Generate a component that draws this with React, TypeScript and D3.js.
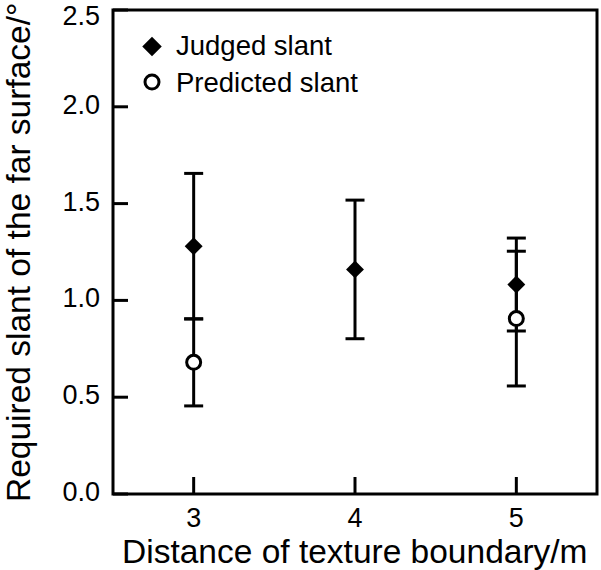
import React from "react";
import * as d3 from "d3";

const distances = [3, 4, 5];
const judgedSlant = [1.28, 1.16, 1.082];
const judgedErr = [0.376, 0.358, 0.24];
const predictedDistances = [3, 5];
const predictedSlant = [0.68, 0.906];
const predictedErr = [0.225, 0.348];
const yTicks = [0, 0.5, 1.0, 1.5, 2.0, 2.5];
const xTicks = [3, 4, 5];
const legendLabels = ["Judged slant", "Predicted slant"];
const xTitle = "Distance of texture boundary/m";
const yTitle = "Required slant of the far surface/°";

export default function App() {
  const W = 601, H = 570;
  const left = 113, right = 597, top = 10, bottom = 494;
  const x = d3.scaleLinear().domain([2.5, 5.5]).range([left, right]);
  const y = d3.scaleLinear().domain([0, 2.5]).range([bottom, top]);
  const font = "'Liberation Sans', Arial, sans-serif";
  const diamond = d3.symbol().type(d3.symbolSquare).size(160)();
  const diamondLegend = d3.symbol().type(d3.symbolSquare).size(190)();
  const fmt = d3.format(".1f");
  const capHalf = 9.5;
  const sw = 3;

  const errBar = (cx: number, v: number, e: number, key: string) => (
    <g key={key} stroke="#000" strokeWidth={sw}>
      <line x1={x(cx)} x2={x(cx)} y1={y(v + e)} y2={y(v - e)} />
      <line x1={x(cx) - capHalf} x2={x(cx) + capHalf} y1={y(v + e)} y2={y(v + e)} />
      <line x1={x(cx) - capHalf} x2={x(cx) + capHalf} y1={y(v - e)} y2={y(v - e)} />
    </g>
  );

  const labelY = (t: number) => {
    const p = y(t) - 2;
    return Math.max(p, 16);
  };

  return (
    <svg width={W} height={H} style={{ position: "absolute", left: 0, top: 0, background: "#fff" }} fontFamily={font}>
      <rect x={0} y={0} width={W} height={H} fill="#fff" />
      {/* frame */}
      <rect x={left} y={top} width={right - left} height={bottom - top} fill="none" stroke="#000" strokeWidth={3} />
      {/* y ticks */}
      {yTicks.map((t) => (
        <g key={"y" + t}>
          <line x1={left} x2={left + 15} y1={y(t)} y2={y(t)} stroke="#000" strokeWidth={3} />
          <text x={100} y={labelY(t)} textAnchor="end" dominantBaseline="central" fontSize={27} fill="#000">
            {fmt(t)}
          </text>
        </g>
      ))}
      {/* x ticks */}
      {xTicks.map((t) => (
        <g key={"x" + t}>
          <line x1={x(t)} x2={x(t)} y1={bottom} y2={bottom - 17} stroke="#000" strokeWidth={3} />
          <text x={x(t)} y={527} textAnchor="middle" fontSize={27} fill="#000">
            {t}
          </text>
        </g>
      ))}
      {/* axis titles */}
      <text x={122} y={563} fontSize={33.5} fill="#000">{xTitle}</text>
      <text transform={`translate(30,502) rotate(-90)`} fontSize={33.5} fill="#000">{yTitle}</text>
      {/* error bars */}
      {distances.map((d, i) => errBar(d, judgedSlant[i], judgedErr[i], "je" + i))}
      {predictedDistances.map((d, i) => errBar(d, predictedSlant[i], predictedErr[i], "pe" + i))}
      {/* markers */}
      {distances.map((d, i) => (
        <path key={"jm" + i} d={diamond} transform={`translate(${x(d)},${y(judgedSlant[i])}) rotate(45)`} fill="#000" />
      ))}
      {predictedDistances.map((d, i) => (
        <circle key={"pm" + i} cx={x(d)} cy={y(predictedSlant[i])} r={7} fill="#fff" stroke="#000" strokeWidth={3} />
      ))}
      {/* legend */}
      <path d={diamondLegend} transform="translate(152,46.5) rotate(45)" fill="#000" />
      <text x={176} y={55} fontSize={27.5} fill="#000">{legendLabels[0]}</text>
      <circle cx={152} cy={82} r={7} fill="#fff" stroke="#000" strokeWidth={3} />
      <text x={176} y={91.5} fontSize={27.5} fill="#000">{legendLabels[1]}</text>
    </svg>
  );
}
